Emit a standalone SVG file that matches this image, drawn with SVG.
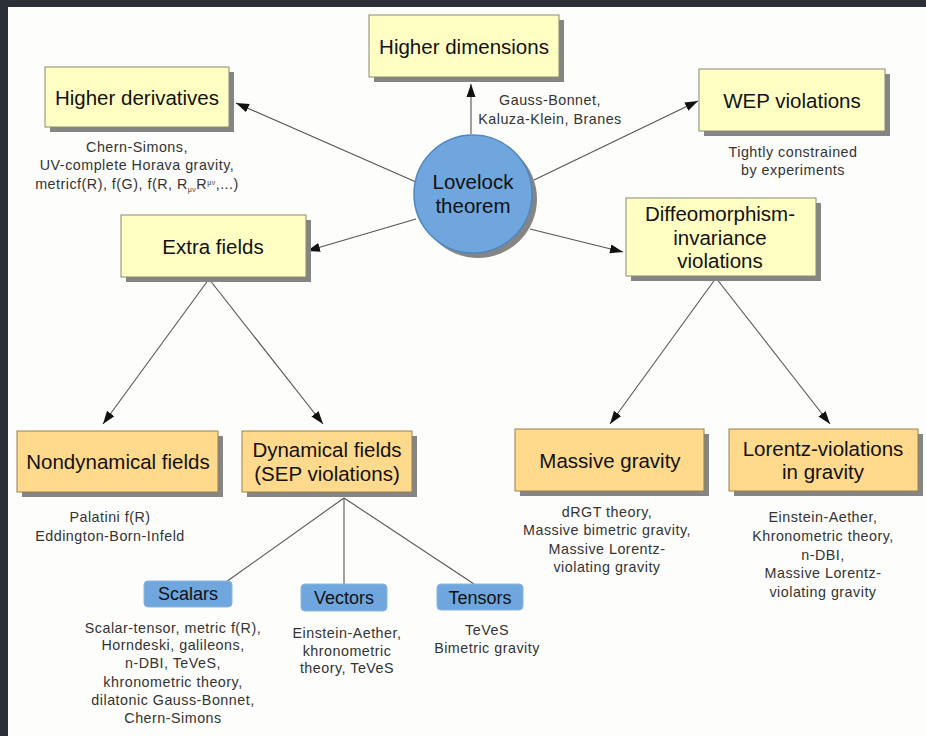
<svg xmlns="http://www.w3.org/2000/svg" width="926" height="736" viewBox="0 0 926 736">
<defs>
<marker id="arr" markerUnits="userSpaceOnUse" markerWidth="14" markerHeight="10" refX="13" refY="5" orient="auto">
<path d="M0,0.5 L13,5 L0,9.5 z" fill="#111"/>
</marker>
<style>
.bg{fill:#fdfdfb}
.shadow{fill:#858585}
.yel{fill:#ffffc4;stroke:#8a8a70;stroke-width:1}
.org{fill:#ffd98c;stroke:#9a8050;stroke-width:1}
.blu{fill:#6ea6dd;stroke:#8ab6e2;stroke-width:1}
.circ{fill:#6ea6dd;stroke:#4f86c0;stroke-width:1.5}
.t{font-family:"Liberation Sans",Arial,sans-serif;fill:#111;text-anchor:middle}
.h{font-size:20.5px}
.hb{font-size:18px}
.s{font-size:14.3px;fill:#333;letter-spacing:0.5px}
.con line{stroke:#555;stroke-width:1.1}
</style>
</defs>
<rect x="0" y="0" width="926" height="736" fill="#2b3038"/>
<rect class="bg" x="8" y="7" width="918" height="729"/>

<g class="con">
<line x1="471" y1="134" x2="471" y2="84" marker-end="url(#arr)"/>
<line x1="416" y1="182" x2="236" y2="103" marker-end="url(#arr)"/>
<line x1="534" y1="180" x2="698" y2="101" marker-end="url(#arr)"/>
<line x1="530" y1="229" x2="623" y2="252" marker-end="url(#arr)"/>
<line x1="416" y1="219" x2="307" y2="251" marker-end="url(#arr)"/>
<line x1="209" y1="279" x2="103" y2="424" marker-end="url(#arr)"/>
<line x1="209" y1="279" x2="323" y2="424" marker-end="url(#arr)"/>
<line x1="716" y1="278" x2="610" y2="424" marker-end="url(#arr)"/>
<line x1="716" y1="278" x2="830" y2="424" marker-end="url(#arr)"/>
<line x1="344" y1="498" x2="226" y2="582"/>
<line x1="344" y1="498" x2="344" y2="584"/>
<line x1="344" y1="498" x2="474" y2="584"/>
</g>

<g id="lovelock">
<circle class="shadow" cx="478" cy="199" r="59"/>
<circle class="circ" cx="473" cy="194" r="59"/>
<text class="t h" x="473" y="189">Lovelock</text>
<text class="t h" x="473" y="213">theorem</text>
</g>

<g id="higher-dimensions">
<rect class="shadow" x="374" y="20" width="190" height="62"/>
<rect class="yel" x="369" y="15" width="190" height="62"/>
<text class="t h" x="464" y="54">Higher dimensions</text>
<text class="t s" x="550" y="105">Gauss-Bonnet,</text>
<text class="t s" x="550" y="124">Kaluza-Klein, Branes</text>
</g>

<g id="higher-derivatives">
<rect class="shadow" x="50" y="72" width="184" height="60"/>
<rect class="yel" x="45" y="67" width="184" height="60"/>
<text class="t h" x="137" y="105">Higher derivatives</text>
<text class="t s" x="137" y="152">Chern-Simons,</text>
<text class="t s" x="137" y="170">UV-complete Horava gravity,</text>
<text class="t s" x="137" y="189">metricf(R), f(G), f(R, R<tspan font-size="7" dy="3">μν</tspan><tspan dy="-3">R</tspan><tspan font-size="7" dy="-4">μν</tspan><tspan dy="4">,...)</tspan></text>
</g>

<g id="wep">
<rect class="shadow" x="704" y="74" width="186" height="62"/>
<rect class="yel" x="699" y="69" width="186" height="62"/>
<text class="t h" x="792" y="108">WEP violations</text>
<text class="t s" x="793" y="157">Tightly constrained</text>
<text class="t s" x="793" y="175">by experiments</text>
</g>

<g id="diffeo">
<rect class="shadow" x="631" y="203" width="190" height="78"/>
<rect class="yel" x="626" y="198" width="190" height="78"/>
<text class="t h" x="720" y="221">Diffeomorphism-</text>
<text class="t h" x="720" y="245">invariance</text>
<text class="t h" x="720" y="268">violations</text>
</g>

<g id="extra-fields">
<rect class="shadow" x="126" y="220" width="185" height="62"/>
<rect class="yel" x="121" y="215" width="185" height="62"/>
<text class="t h" x="213" y="254">Extra fields</text>
</g>

<g id="nondynamical">
<rect class="shadow" x="22" y="436" width="201" height="61"/>
<rect class="org" x="17" y="431" width="201" height="61"/>
<text class="t h" x="118" y="469">Nondynamical fields</text>
<text class="t s" x="110" y="522">Palatini f(R)</text>
<text class="t s" x="110" y="541">Eddington-Born-Infeld</text>
</g>

<g id="dynamical">
<rect class="shadow" x="247" y="436" width="170" height="61"/>
<rect class="org" x="242" y="431" width="170" height="61"/>
<text class="t h" x="327" y="457">Dynamical fields</text>
<text class="t h" x="327" y="481">(SEP violations)</text>
</g>

<g id="massive">
<rect class="shadow" x="520" y="434" width="189" height="62"/>
<rect class="org" x="515" y="429" width="189" height="62"/>
<text class="t h" x="610" y="468">Massive gravity</text>
<text class="t s" x="607" y="517">dRGT theory,</text>
<text class="t s" x="607" y="535">Massive bimetric gravity,</text>
<text class="t s" x="607" y="554">Massive Lorentz-</text>
<text class="t s" x="607" y="572">violating gravity</text>
</g>

<g id="lorentz">
<rect class="shadow" x="734" y="434" width="189" height="62"/>
<rect class="org" x="729" y="429" width="189" height="62"/>
<text class="t h" x="823" y="456">Lorentz-violations</text>
<text class="t h" x="823" y="479">in gravity</text>
<text class="t s" x="823" y="522">Einstein-Aether,</text>
<text class="t s" x="823" y="541">Khronometric theory,</text>
<text class="t s" x="823" y="560">n-DBI,</text>
<text class="t s" x="823" y="578">Massive Lorentz-</text>
<text class="t s" x="823" y="597">violating gravity</text>
</g>

<g id="scalars">
<rect class="blu" x="144" y="581" width="88" height="26" rx="4"/>
<text class="t hb" x="188" y="600">Scalars</text>
<text class="t s" x="173" y="633">Scalar-tensor, metric f(R),</text>
<text class="t s" x="173" y="650">Horndeski, galileons,</text>
<text class="t s" x="173" y="668">n-DBI, TeVeS,</text>
<text class="t s" x="173" y="687">khronometric theory,</text>
<text class="t s" x="173" y="705">dilatonic Gauss-Bonnet,</text>
<text class="t s" x="173" y="723">Chern-Simons</text>
</g>

<g id="vectors">
<rect class="blu" x="301" y="584" width="86" height="27" rx="4"/>
<text class="t hb" x="344" y="604">Vectors</text>
<text class="t s" x="347" y="638">Einstein-Aether,</text>
<text class="t s" x="347" y="656">khronometric</text>
<text class="t s" x="347" y="673">theory, TeVeS</text>
</g>

<g id="tensors">
<rect class="blu" x="437" y="584" width="86" height="26" rx="4"/>
<text class="t hb" x="480" y="604">Tensors</text>
<text class="t s" x="487" y="635">TeVeS</text>
<text class="t s" x="487" y="653">Bimetric gravity</text>
</g>
</svg>
